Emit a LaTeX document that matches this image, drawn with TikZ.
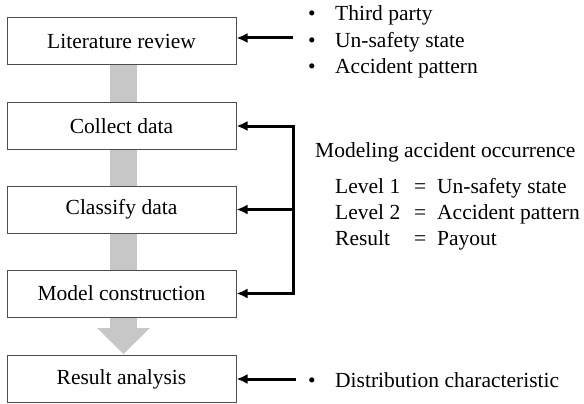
\documentclass[tikz,border=0pt]{standalone}
\usepackage{fontspec}
\setmainfont{Liberation Serif}
\usetikzlibrary{arrows.meta}
\tikzset{
  box/.style={draw=black!70, line width=1pt, fill=white, minimum width=229pt, minimum height=47pt, inner sep=0pt, font=\fontsize{21.5}{24}\selectfont},
  txt/.style={anchor=base west, inner sep=0pt, font=\fontsize{21.5}{24}\selectfont},
  bul/.style={anchor=base, inner sep=0pt, font=\fontsize{21.5}{24}\selectfont},
  tip/.style={},
  arr/.style={line width=3pt, -{Latex[length=11pt,width=10pt]}},
  flowfill/.style={fill=black!22}
}
\begin{document}
\begin{tikzpicture}[x=1pt,y=-1pt]
\useasboundingbox (0,0) rectangle (584,404);
% gray flow bar with arrow head
\fill[flowfill] (110,60) rectangle (137,329);
\fill[flowfill] (97,328) -- (150,328) -- (123.5,354) -- cycle;
% boxes
\node[box] (lit) at (121.5,41.5) {Literature review};
\node[box] (collect) at (121.5,126) {Collect data};
\node[box] (classify) at (121.5,209.5) {Classify data};
\node[box] (model) at (121.5,293.5) {Model construction};
\node[box] (result) at (121.5,379) {Result analysis};
% top list
\node[bul] (b1) at (312,21) {•};
\node[txt] (t1) at (335,21) {Third party};
\node[bul] (b2) at (312,48) {•};
\node[txt] (t2) at (335,48) {Un-safety state};
\node[bul] (b3) at (312,74) {•};
\node[txt] (t3) at (335,74) {Accident pattern};
\coordinate (litsrc) at (293,38);
\draw[arr] (litsrc) -- (lit.east |- litsrc);
% bracket
\coordinate (bT) at (293,126);
\coordinate (bB) at (293,293.5);
\draw[line width=3pt, {Latex[length=11pt,width=10pt]}-{Latex[length=11pt,width=10pt]}, line join=miter] (collect.east) -- (bT) -- (bB) -- (model.east);
\draw[arr] (bT |- classify.east) -- (classify.east);
% modeling text
\node[txt] (mt) at (315,157) {Modeling accident occurrence};
\node[txt] (l1) at (335,193) {Level 1};
\node[txt] (e1) at (414,193) {=};
\node[txt] (v1) at (437,193) {Un-safety state};
\node[txt] (l2) at (335,219) {Level 2};
\node[txt] (e2) at (414,219) {=};
\node[txt] (v2) at (437,219) {Accident pattern};
\node[txt] (l3) at (335,245) {Result};
\node[txt] (e3) at (414,245) {=};
\node[txt] (v3) at (437,245) {Payout};
% distribution
\coordinate (dsrc) at (296,379);
\draw[arr] (dsrc) -- (result.east);
\node[bul] (b4) at (312,387) {•};
\node[txt] (t4) at (335,387) {Distribution characteristic};
\end{tikzpicture}
\end{document}
